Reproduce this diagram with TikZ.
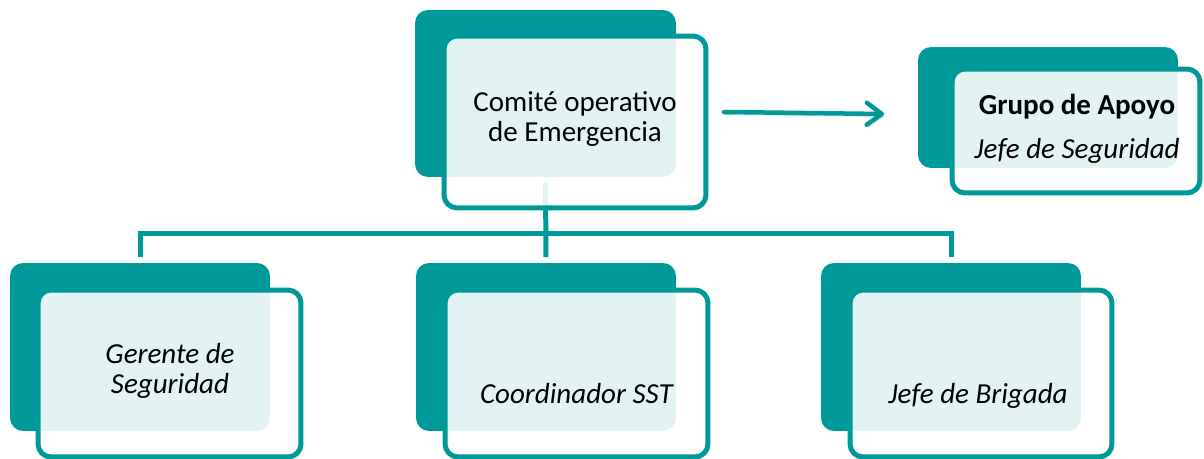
\documentclass[tikz,border=0pt]{standalone}
\usepackage{fontspec}
\setmainfont{Carlito}
\usepackage{tikz}
\usetikzlibrary{arrows.meta,positioning}
\definecolor{tealc}{HTML}{009999}
\tikzset{
  backbox/.style={fill=tealc, rounded corners=0.26cm, inner sep=0pt, outer sep=0pt},
  frontbox/.style={draw=tealc, line width=0.1cm, fill=white, fill opacity=0.89,
                   rounded corners=0.26cm, inner sep=0pt, outer sep=0pt},
  lbl/.style={font=\fontsize{16.5pt}{17.2pt}\selectfont, text=black, align=center},
  conn/.style={draw=tealc, line width=0.1cm, line join=miter},
  arr/.style={-{Straight Barb[length=0.3cm, width=0.44cm, line cap=round, line join=round]},
              draw=tealc, line width=0.09cm, line cap=round,
              preaction={draw=black, draw opacity=0.18,
                         transform canvas={shift={(0.03cm,-0.05cm)}}}},
}

\begin{document}
\begin{tikzpicture}[x=0.02cm, y=-0.02cm]
  \useasboundingbox (0,0) rectangle (1204,459);
  \clip (0,0) rectangle (1204,459);
  % back boxes
  \node[backbox, minimum width=5.22cm, minimum height=3.34cm] (tback) at (545.5,93.5) {};
  \node[backbox, minimum width=5.2cm, minimum height=2.42cm] (gback) at (1048,107.5) {};
  \node[backbox, minimum width=5.2cm, minimum height=3.36cm] (lback) at (140,347) {};
  \node[backbox, minimum width=5.2cm, minimum height=3.36cm] (mback) at (546,347) {};
  \node[backbox, minimum width=5.2cm, minimum height=3.36cm] (rback) at (951,347) {};
  % connectors
  \coordinate (bar) at (546,234);
  \draw[conn, shorten <=0.12cm, shorten >=0.12cm] (tback.south) -- (mback.north);
  \draw[conn, shorten <=0.12cm, shorten >=0.12cm] (lback.north) |- (bar) -| (rback.north);
  % front boxes
  \node[frontbox, minimum width=5.24cm, minimum height=3.44cm] (tfront) at (575,122) {};
  \node[frontbox, minimum width=4.96cm, minimum height=2.48cm] (gfront) at (1076,131) {};
  \node[frontbox, minimum width=5.26cm, minimum height=3.34cm] (lfront) at (169.5,373.5) {};
  \node[frontbox, minimum width=5.26cm, minimum height=3.34cm] (mfront) at (576.5,373.5) {};
  \node[frontbox, minimum width=5.24cm, minimum height=3.34cm] (rfront) at (981,373.5) {};
  \draw[arr] ([shift={(18,-10)}]tfront.east) -- ([shift={(-34,6.5)}]gback.west);
  % texts
  \node[lbl] (ttext) at (575,119) {Comité operativo\\de Emergencia};
  \node[lbl] (gtext) at (1077,129) {\textbf{Grupo de Apoyo}\\[8pt]\textit{Jefe de Seguridad}};
  \node[lbl, font=\fontsize{16.5pt}{17.2pt}\selectfont\itshape] (ltext) at (170,371) {Gerente de\\Seguridad};
  \node[lbl, anchor=base] (mtext) at (577,403) {\textit{Coordinador SST}};
  \node[lbl, anchor=base] (rtext) at (978,403) {\textit{Jefe de Brigada}};
\end{tikzpicture}
\end{document}
